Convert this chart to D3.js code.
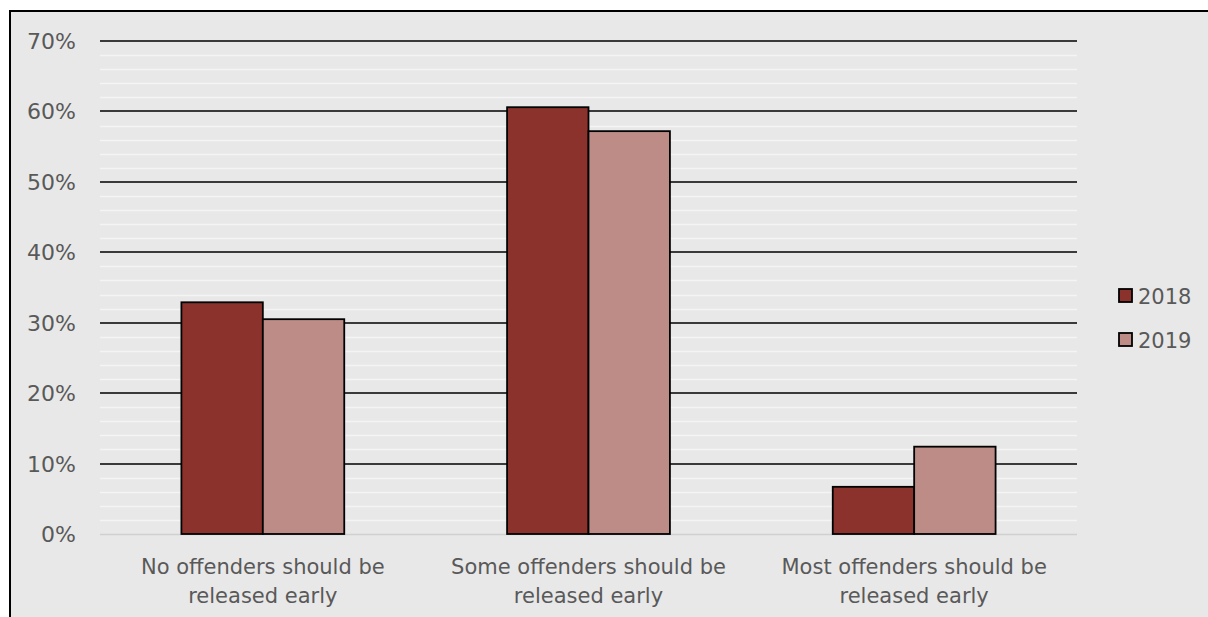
<!DOCTYPE html>
<html><head><meta charset="utf-8">
<script src="https://cdn.jsdelivr.net/npm/d3@7"></script>
<style>html,body{margin:0;padding:0;background:#fff;}svg{display:block;}</style>
</head><body>
<script>
const categories = [["No offenders should be","released early"],["Some offenders should be","released early"],["Most offenders should be","released early"]];
const seriesNames = ["2018","2019"];
const values2018 = [32.9, 60.6, 6.7];
const values2019 = [30.5, 57.2, 12.4];
const yTicks = [0,10,20,30,40,50,60,70];
const colors = ["#8b322c","#bd8c87"];

const W=1208,H=617;
const svg=d3.select("body").append("svg").attr("width",W).attr("height",H);
const font="'DejaVu Sans', Verdana, sans-serif";
svg.append("rect").attr("x",10).attr("y",11).attr("width",W-10).attr("height",H-11).attr("fill","#e8e8e8");
svg.append("path").attr("d",`M10,${H} L10,11 L${W},11`).attr("fill","none").attr("stroke","#000").attr("stroke-width",2);

const x0=100,x1=1077;
const y=d3.scaleLinear().domain([0,70]).range([534,41]);
const xb=d3.scaleBand().domain(d3.range(categories.length)).range([x0,x1]).paddingInner(0.5).paddingOuter(0.25);
const xs=d3.scaleBand().domain(seriesNames).range([0,xb.bandwidth()]);

// minor gridlines
const minor=d3.range(2,70,2).filter(v=>v%10!==0);
svg.append("g").selectAll("line").data(minor).join("line")
 .attr("x1",x0).attr("x2",x1).attr("y1",d=>Math.round(y(d))+0.5).attr("y2",d=>Math.round(y(d))+0.5)
 .attr("stroke","#f4f4f4").attr("stroke-width",1.5);
// major gridlines
svg.append("g").selectAll("line").data(yTicks.filter(d=>d>0)).join("line")
 .attr("x1",x0).attr("x2",x1).attr("y1",d=>Math.round(y(d))).attr("y2",d=>Math.round(y(d)))
 .attr("stroke","#000").attr("stroke-width",1.6);
svg.append("line").attr("x1",x0).attr("x2",x1).attr("y1",y(0)+0.5).attr("y2",y(0)+0.5).attr("stroke","#d0d0d0").attr("stroke-width",1.5);

// y labels
svg.append("g").selectAll("text").data(yTicks).join("text")
 .attr("x",76).attr("y",d=>y(d)+8).attr("text-anchor","end")
 .attr("font-family",font).attr("font-size",22).attr("fill","#595959").text(d=>d+"%");

// bars
const data=[values2018,values2019];
seriesNames.forEach((s,si)=>{
  svg.append("g").selectAll("rect").data(data[si]).join("rect")
   .attr("x",(d,i)=>xb(i)+xs(s)).attr("width",xs.bandwidth())
   .attr("y",d=>y(d)).attr("height",d=>y(0)-y(d))
   .attr("fill",colors[si]).attr("stroke","#000").attr("stroke-width",1.8);
});

// category labels
categories.forEach((c,i)=>{
  const t=svg.append("text").attr("x",xb(i)+xb.bandwidth()/2).attr("y",575).attr("text-anchor","middle")
   .attr("font-family",font).attr("font-size",21).attr("fill","#595959");
  c.forEach((ln,j)=>t.append("tspan").attr("x",xb(i)+xb.bandwidth()/2).attr("y",574+j*29).text(ln));
});

// legend
seriesNames.forEach((s,i)=>{
  const ly=289+i*44;
  svg.append("rect").attr("x",1119).attr("y",ly).attr("width",13).attr("height",13)
   .attr("fill",colors[i]).attr("stroke","#000").attr("stroke-width",1.8);
  svg.append("text").attr("x",1138).attr("y",ly+15).attr("font-family",font).attr("font-size",21)
   .attr("fill","#595959").text(s);
});
</script>
</body></html>
